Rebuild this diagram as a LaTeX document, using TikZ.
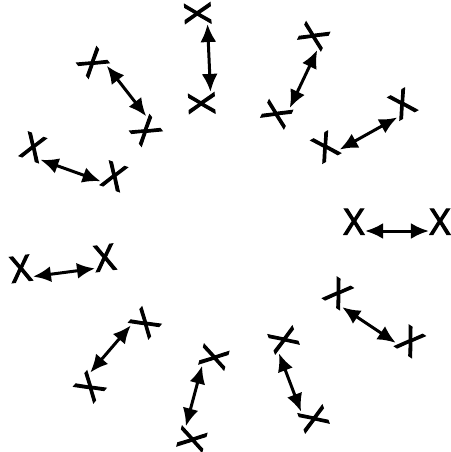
\documentclass[tikz,border=0pt]{standalone}
\usepackage{fontspec}
\newfontfamily\xfont{Open Sans}[BoldFont={*}, BoldFeatures={FakeBold=3}]
\usetikzlibrary{arrows.meta}
\tikzset{
  xmark/.style={font=\xfont\bfseries\fontsize{36}{38}\selectfont, inner sep=0.5pt, text height=0.714em, text depth=0pt},
  pairarrow/.style={line width=3pt, arrows={Latex[length=18pt,width=16pt]-Latex[length=18pt,width=16pt]}}
}
\begin{document}
\begin{tikzpicture}[x=1pt,y=-1pt]
\useasboundingbox (0,0) rectangle (450,452);
% inner -> outer
\node[xmark, rotate=0]      (a1)  at (354,231) {X};
\node[xmark, rotate=0]      (b1)  at (440,231) {X};
\node[xmark, rotate=-33.7]  (a2)  at (333,301) {X};
\node[xmark, rotate=-33.7]  (b2)  at (405,349) {X};
\node[xmark, rotate=-69.2]  (a3)  at (275,343) {X};
\node[xmark, rotate=-69.2]  (b3)  at (305,422) {X};
\node[xmark, rotate=-105]   (a4)  at (205,355) {X};
\node[xmark, rotate=-105]   (b4)  at (183,437) {X};
\node[xmark, rotate=-130.7] (a5)  at (138,317) {X};
\node[xmark, rotate=-130.7] (b5)  at (83,381) {X};
\node[xmark, rotate=7.5]    (a6)  at (106,267) {X};
\node[xmark, rotate=7.5]    (b6)  at (22,278) {X};
\node[xmark, rotate=-19.7]  (a7)  at (111,185) {X};
\node[xmark, rotate=-19.7]  (b7)  at (30,156) {X};
\node[xmark, rotate=127.9]  (a8)  at (153,125) {X};
\node[xmark, rotate=127.9]  (b8)  at (100,57) {X};
\node[xmark, rotate=92.5]   (a9)  at (211,103) {X};
\node[xmark, rotate=92.5]   (b9)  at (207,13) {X};
\node[xmark, rotate=64.6]   (a10) at (285,118) {X};
\node[xmark, rotate=64.6]   (b10) at (322,40) {X};
\node[xmark, rotate=29.2]   (a11) at (330,155) {X};
\node[xmark, rotate=29.2]   (b11) at (407,112) {X};
\foreach \i in {1,...,11} {
  \draw[pairarrow] (a\i) -- (b\i);
}
\end{tikzpicture}
\end{document}
